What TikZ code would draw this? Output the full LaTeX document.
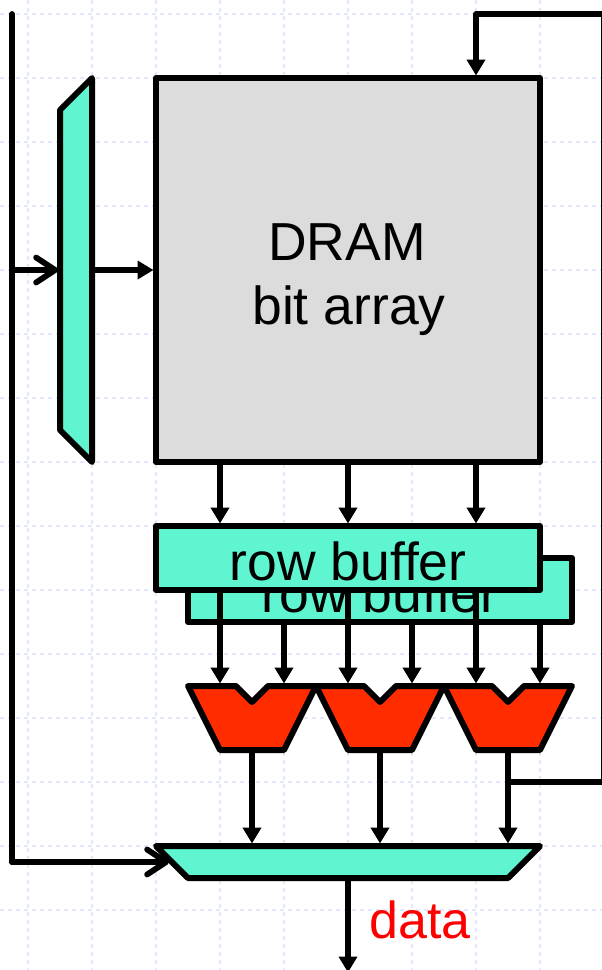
\documentclass[tikz,border=0pt]{standalone}
\usepackage{fontspec}
\setmainfont{Liberation Sans}
\usetikzlibrary{arrows.meta}
\definecolor{teal}{HTML}{5FF5D0}
\definecolor{muxred}{HTML}{FF2C00}
\definecolor{arraygray}{HTML}{DCDCDC}
\definecolor{gridblue}{HTML}{E3E8FF}
\tikzset{
  x=1pt,y=-1pt,
  wire/.style={line width=5.8pt,line join=round,line cap=round},
  arrowwire/.style={line width=5.8pt,line join=round,shorten >=2.5pt,-{Triangle[length=16pt,width=18pt]}},
  openwire/.style={line width=5.8pt,line join=round,line cap=round,-{Straight Barb[length=19pt,width=25pt,line width=5.8pt,round]}},
  blockshape/.style={draw=black,line width=6pt,line join=round},
  box/.style={blockshape,outer sep=0pt,inner sep=0pt,font=\fontsize{53.5}{60}\selectfont},
  bufbox/.style={box,fill=teal,minimum width=384pt,minimum height=64pt,text height=44pt,text depth=0pt},
  gridline/.style={gridblue,line width=1.3pt,dash pattern=on 4pt off 4pt},
  label/.style={font=\fontsize{53.5}{60}\selectfont,inner sep=0pt,anchor=base}
}
\begin{document}
\begin{tikzpicture}
\useasboundingbox (0,0) rectangle (602,970);
\fill[white] (0,0) rectangle (602,970);
\clip (0,0) rectangle (602,970);
% background grid
\foreach \gx in {28,92,...,604} {\draw[gridline] (\gx,0) -- (\gx,970);}
\foreach \gy in {14,78,...,974} {\draw[gridline] (0,\gy) -- (602,\gy);}

% DRAM array
\node[box,fill=arraygray,minimum width=384pt,minimum height=384pt] (dram) at (348,270) {};
\node[label] (dramlabelA) at (347,260) {DRAM};
\node[label] (dramlabelB) at (349,324) {bit array};

% row select mux (left)
\draw[blockshape,fill=teal] (92,78) -- (60,110) -- (60,430) -- (92,462) -- cycle;
\coordinate (rowmuxL) at (58,270);
\coordinate (rowmuxR) at (92,270);

% column mux (bottom)
\draw[blockshape,fill=teal] (156,846) -- (540,846) -- (508,878) -- (188,878) -- cycle;
\coordinate (colmuxT1) at (252,846);
\coordinate (colmuxT2) at (380,846);
\coordinate (colmuxT3) at (508,846);
\coordinate (colmuxB) at (348,878);
\coordinate (colmuxL) at (169,862);

% address line on the left
\coordinate (addrtop) at (12,14);
\coordinate (addrcorner) at (12,862);
\coordinate (addrtap) at (12,270);
\draw[wire] (addrtop) -- (addrcorner);
\draw[openwire] (addrcorner) -- (colmuxL);
\draw[openwire] (addrtap) -- (rowmuxL);
\draw[arrowwire] (rowmuxR) -- (rowmuxR -| dram.west);

% back row buffer
\node[bufbox] (bufB) at (380,590) {row buffer};

% red muxes
\foreach \mx/\mn in {188/1,316/2,444/3} {
  \begin{scope}[shift={(\mx,0)}]
    \draw[blockshape,fill=muxred] (0,686) -- (48,686) -- (64,702) -- (80,686) -- (128,686) -- (96,750) -- (32,750) -- cycle;
    \coordinate (mux\mn A) at (32,686);
    \coordinate (mux\mn B) at (96,686);
    \coordinate (mux\mn O) at (64,750);
  \end{scope}
}

% array to front buffer; front buffer to muxes
\coordinate (bufFtop) at (348,526);
\draw[arrowwire] (dram.south -| mux1A) -- (bufFtop -| mux1A);
\draw[arrowwire] (dram.south) -- (bufFtop);
\draw[arrowwire] (dram.south -| mux3A) -- (bufFtop -| mux3A);
\draw[arrowwire] (bufFtop -| mux1A) -- (mux1A);
\draw[arrowwire] (bufFtop -| mux2A) -- (mux2A);
\draw[arrowwire] (bufFtop -| mux3A) -- (mux3A);
\draw[arrowwire] (bufB.south -| mux1B) -- (mux1B);
\draw[arrowwire] (bufB.south -| mux2B) -- (mux2B);
\draw[arrowwire] (bufB.south -| mux3B) -- (mux3B);

% front row buffer
\node[bufbox] (bufF) at (348,558) {row buffer};

% muxes to column mux
\draw[arrowwire] (mux1O) -- (colmuxT1);
\draw[arrowwire] (mux2O) -- (colmuxT2);
\draw[arrowwire] (mux3O) -- (colmuxT3);

% feedback
\coordinate (fbstart) at (508,782);
\coordinate (fbright) at (603.5,782);
\coordinate (fbtop) at (603.5,14);
\coordinate (fbleft) at (476,14);
\draw[arrowwire] (fbstart) -- (fbright) -- (fbtop) -- (fbleft) -- (fbleft |- dram.north);

% data output
\coordinate (dataout) at (348,975);
\draw[arrowwire] (colmuxB) -- (dataout);
\node[label,text=red,font=\fontsize{52}{60}\selectfont] (datalabel) at (420,938) {data};
\end{tikzpicture}
\end{document}
